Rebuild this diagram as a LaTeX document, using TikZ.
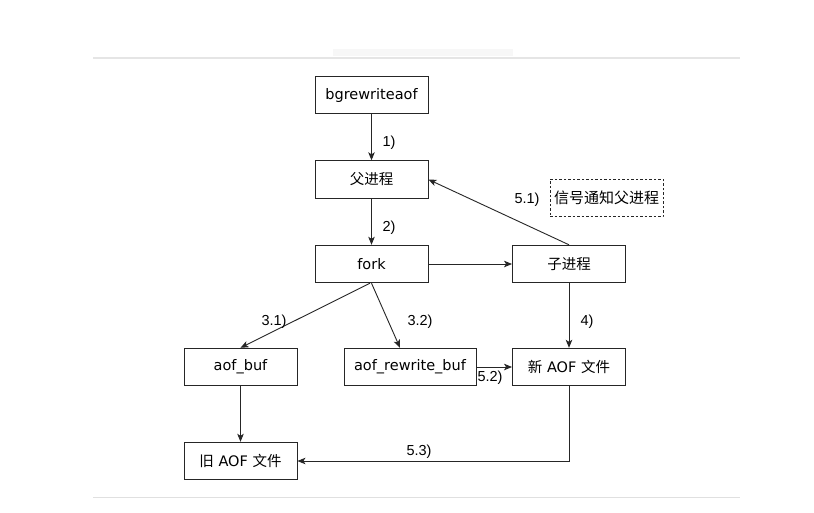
\documentclass[tikz,border=0pt]{standalone}
\usepackage{fontspec}
\setmainfont{Liberation Sans}
\newfontfamily\cjk{Noto Sans CJK SC}
\newfontfamily\boxfont{DejaVu Sans}
\usetikzlibrary{arrows.meta,positioning}
\begin{document}
\begin{tikzpicture}[x=1pt,y=-1pt,
  box/.style={draw=black!85,line width=0.9pt,minimum width=113pt,minimum height=37.5pt,inner sep=0pt,font=\boxfont\fontsize{14.5}{16}\selectfont,anchor=center},
  dbox/.style={box,dashed,dash pattern=on 2.5pt off 2pt},
  conn/.style={draw=black!85,line width=0.9pt,-{Stealth[length=8pt,width=6.5pt,inset=2pt]}},
  lbl/.style={font=\fontsize{14.5}{16}\selectfont,inner sep=0pt}]
\useasboundingbox (0,0) rectangle (814,512);
\fill[white] (0,0) rectangle (814,512);
% separators
\fill[black!3] (333,49) rectangle (513,56);
\draw[black!10,line width=1.2pt] (93,58) -- (740,58);
\draw[black!12,line width=1pt] (93,497) -- (740,497);
% nodes
\node[box] (bg) at (371.5,95) {bgrewriteaof};
\node[box] (parent) at (371.5,179.5) {\cjk 父进程};
\node[box] (fork) at (371.5,264) {fork};
\node[box] (child) at (569,264) {\cjk 子进程};
\node[dbox] (note) at (606.5,198) {\cjk\fontsize{15}{17}\selectfont 信号通知父进程};
\node[box] (aofbuf) at (240.5,367) {aof\_buf};
\node[box,minimum width=132pt] (rwbuf) at (410,367) {aof\_rewrite\_buf};
\node[box] (newaof) at (569,367) {{\cjk 新} AOF {\cjk 文件}};
\node[box] (oldaof) at (240.5,461) {{\cjk 旧} AOF {\cjk 文件}};
% connectors
\draw[conn] (bg) -- (parent);
\node[lbl] (l1) at (389,143) {1)};
\draw[conn] (parent) -- (fork);
\node[lbl] (l2) at (389,228) {2)};
\draw[conn] (fork) -- (child);
\draw[conn] (child.north) -- (parent.east);
\node[lbl] (l51) at (527,200) {5.1)};
\draw[conn] ([xshift=-1.5pt]fork.south) -- (aofbuf.north);
\node[lbl] (l31) at (274,322) {3.1)};
\draw[conn] (fork.south) -- ([xshift=-10pt]rwbuf.north);
\node[lbl] (l32) at (420,322) {3.2)};
\draw[conn] (child) -- (newaof);
\node[lbl] (l4) at (587,322) {4)};
\draw[conn] (rwbuf) -- (newaof);
\node[lbl] (l52) at (490,378) {5.2)};
\draw[conn] (aofbuf) -- (oldaof);
\draw[conn] (newaof.south) |- (oldaof.east);
\node[lbl] (l53) at (419,452) {5.3)};
\end{tikzpicture}
\end{document}
